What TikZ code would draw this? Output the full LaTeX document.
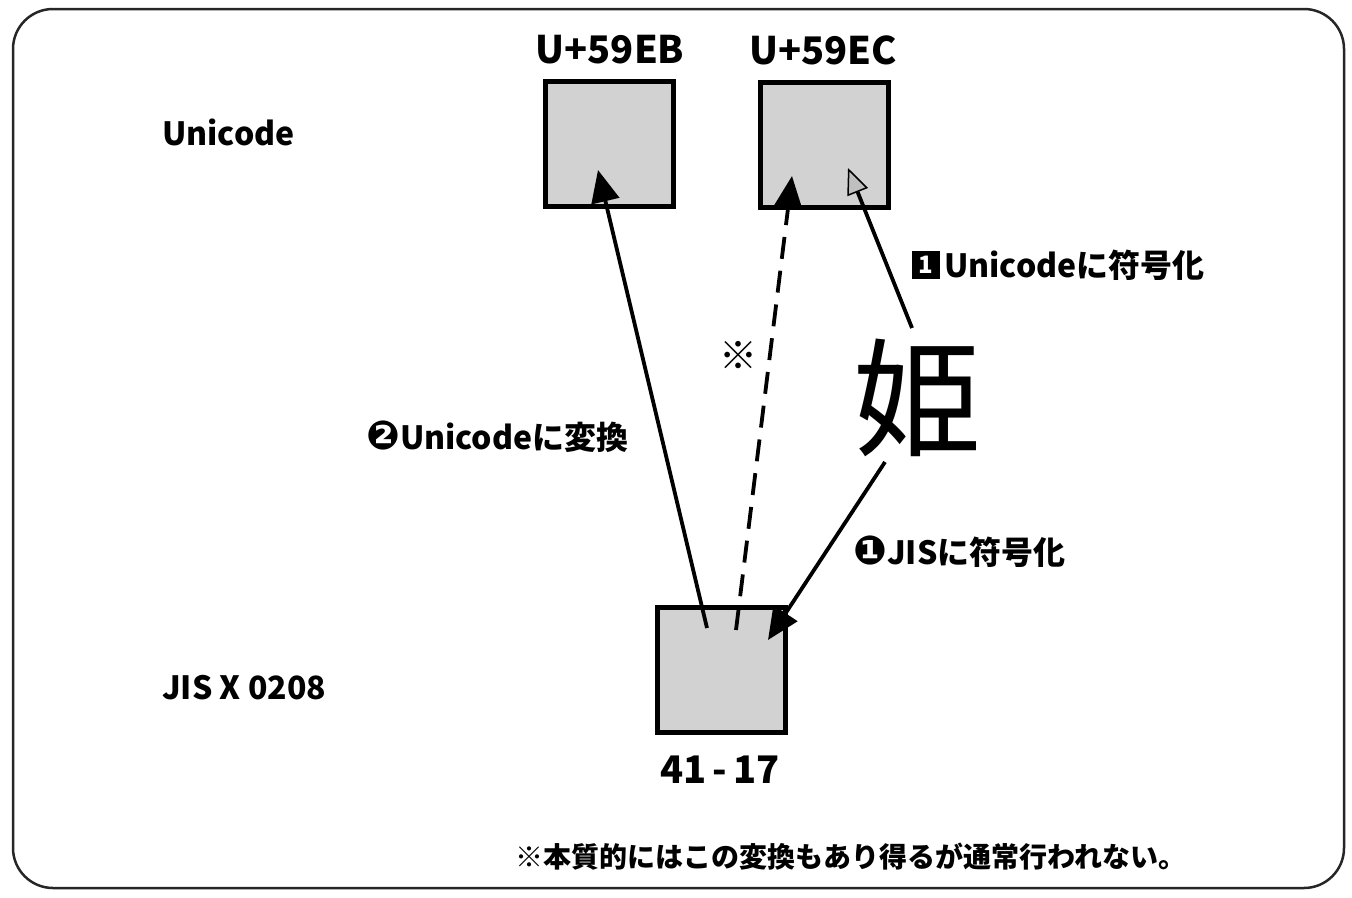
\documentclass[tikz,border=0pt]{standalone}
\usepackage{fontspec}
\setmainfont{Noto Sans CJK JP}
\newfontfamily\djv{DejaVu Sans}
\newfontfamily\jpn{Noto Sans CJK JP}
\usetikzlibrary{arrows.meta,calc}
\begin{document}
\begin{tikzpicture}[x=1pt,y=-1pt,
  cbox/.style={draw=black,line width=5pt,fill=gray!35,minimum width=128pt,minimum height=125pt,inner sep=0pt},
  lbl/.style={font=\fontsize{32}{36}\selectfont\bfseries,inner sep=0pt},
  code/.style={font=\fontsize{38}{42}\selectfont\bfseries,inner sep=0pt},
  conn/.style={line width=3.8pt,-{Triangle[length=32pt,width=28pt]}},
  connopen/.style={line width=3.8pt,-{Triangle[length=26pt,width=22pt,fill=gray!50,line width=1.5pt]}}
]
\useasboundingbox (0,0) rectangle (1352,897);
\draw[line width=2.5pt,rounded corners=40pt,draw=black!85] (13,9) rectangle (1344,888);

\node[cbox] (eb) at (609,144) {};
\node[cbox] (ec) at (824,145) {};
\node[cbox] (jis) at (721,670) {};

\node[code] (ebl) at (610,50) {U+59EB};
\node[code] (ecl) at (823,50) {U+59EC};
\node[code] (jisl) at (720,770) {41\,-\,17};

\node[lbl,anchor=west] (uni) at (162,132) {Unicode};
\node[lbl,anchor=west] (jx) at (162,688) {JIS X 0208};

\node[font=\fontsize{128}{132}\selectfont,inner sep=0pt] (hime) at (917,398) {姫};
\node[font=\fontsize{38}{40}\selectfont\bfseries,inner sep=0pt] (kome) at (738,355) {※};

\coordinate (a2s) at (707,628);
\coordinate (a2e) at (598,170);
\coordinate (ds) at (736,630);
\coordinate (de) at (792,176);
\coordinate (h1s) at (885,462);
\coordinate (h1e) at (768,640);
\coordinate (h2s) at (912,328);
\coordinate (h2e) at (848,168);

\draw[conn] (a2s) -- (a2e);
\draw[conn,dash pattern=on 22pt off 12pt] (ds) -- (de);
\draw[conn] (h1s) -- (h1e);
\draw[connopen] (h2s) -- (h2e);

\node[lbl,anchor=west] (l2) at (366,437) {{\djv\fontsize{40}{42}\selectfont ❷}Unicodeに変換};
\node[lbl,anchor=west] (l1) at (853,552) {{\djv\fontsize{40}{42}\selectfont ❶}JISに符号化};
\node[fill=black,text=white,font=\fontsize{24}{26}\selectfont\bfseries,minimum width=28pt,minimum height=28pt,inner sep=0pt] (sq) at (926,265) {1};
\node[lbl,anchor=west] (l3) at (944,265) {Unicodeに符号化};

\node[font=\fontsize{28}{30}\selectfont\bfseries,inner sep=0pt] (note) at (851,857) {※本質的にはこの変換もあり得るが通常行われない。};
\end{tikzpicture}
\end{document}
